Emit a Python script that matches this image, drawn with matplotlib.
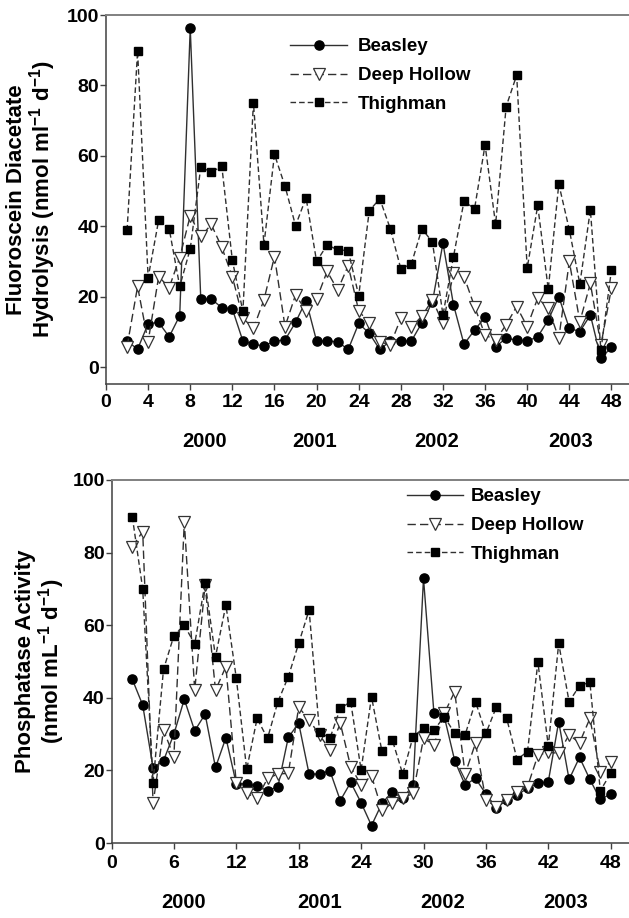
import matplotlib
matplotlib.use("Agg")
import matplotlib.pyplot as plt
from matplotlib.transforms import blended_transform_factory
from matplotlib.ticker import FixedLocator

plt.rcParams['font.family'] = ['Liberation Sans', 'DejaVu Sans']
plt.rcParams['font.weight'] = 'bold'
plt.rcParams['mathtext.fontset'] = 'custom'
plt.rcParams['mathtext.rm'] = 'Liberation Sans:bold'
plt.rcParams['mathtext.bf'] = 'Liberation Sans:bold'
plt.rcParams['mathtext.it'] = 'Liberation Sans:bold'
plt.rcParams['mathtext.default'] = 'rm'

# ---------------- data ----------------
sample = list(range(2, 49))
series_names = ['Beasley', 'Deep Hollow', 'Thighman']
years = ['2000', '2001', '2002', '2003']

fda_beasley = [7.4, 5.1, 12.3, 12.7, 8.6, 14.6, 96.3, 19.3, 19.3, 16.9, 16.5, 7.4,
               6.5, 6.0, 7.4, 7.7, 12.7, 18.9, 7.4, 7.4, 7.2, 5.0, 12.4, 9.6,
               5.0, 7.4, 7.4, 7.4, 12.6, 18.5, 35.2, 17.7, 6.5, 10.5, 14.2, 5.8,
               8.2, 7.7, 7.4, 8.6, 13.4, 20.0, 11.0, 10.1, 14.8, 2.5, 5.6]
fda_deephollow = [5.8, 22.9, 7.2, 25.7, 22.6, 31.1, 43.0, 37.1, 40.5, 34.0, 25.7, 13.9,
                  11.0, 19.1, 31.4, 11.5, 20.5, 16.0, 19.3, 27.2, 21.9, 28.8, 16.0, 12.4,
                  7.2, 6.3, 13.9, 11.3, 14.5, 19.1, 12.4, 26.7, 25.7, 17.2, 9.1, 7.7,
                  12.0, 17.2, 11.5, 19.6, 16.7, 8.2, 30.0, 12.9, 23.8, 6.3, 22.4]
fda_thighman = [38.8, 89.8, 25.4, 41.7, 39.3, 22.9, 33.6, 56.8, 55.4, 57.0, 30.3, 15.8,
                75.1, 34.8, 60.4, 51.4, 40.2, 48.1, 30.0, 34.7, 33.3, 33.1, 20.3, 44.4,
                47.8, 39.3, 27.9, 29.3, 39.3, 35.5, 14.8, 31.4, 47.1, 45.0, 63.1, 40.5,
                74.0, 82.9, 28.1, 45.9, 22.1, 52.0, 39.0, 23.6, 44.7, 4.8, 27.6]

pho_beasley = [45.1, 38.0, 20.7, 22.7, 30.0, 39.6, 30.9, 35.5, 20.8, 29.0, 16.3, 16.3,
               15.7, 14.4, 15.5, 29.1, 33.0, 19.0, 19.0, 19.9, 11.7, 16.7, 11.1, 4.8,
               10.9, 14.1, 12.3, 16.0, 72.9, 35.9, 34.8, 22.7, 16.0, 17.8, 13.5, 9.7,
               11.8, 13.2, 15.1, 16.4, 16.9, 33.4, 17.5, 23.6, 17.5, 12.0, 13.5]
pho_deephollow = [81.6, 85.8, 10.9, 31.1, 23.8, 88.5, 42.1, 71.1, 42.1, 48.6, 16.4, 13.7,
                  12.3, 17.8, 19.0, 19.2, 37.4, 33.9, 29.8, 25.6, 33.0, 21.0, 16.0, 18.5,
                  9.1, 10.9, 12.3, 13.7, 28.8, 27.0, 35.7, 41.7, 19.0, 27.5, 11.8, 10.0,
                  11.8, 14.1, 15.5, 24.2, 25.0, 24.7, 29.8, 27.6, 34.3, 19.6, 22.4]
pho_thighman = [89.9, 70.0, 16.6, 47.8, 57.1, 60.0, 54.8, 71.7, 51.3, 65.6, 45.4, 20.3,
                34.3, 28.8, 38.9, 45.8, 55.0, 64.2, 30.7, 28.8, 37.1, 38.9, 20.1, 40.3,
                25.3, 28.4, 19.0, 29.3, 31.6, 31.1, 34.8, 30.2, 29.8, 38.9, 30.2, 37.4,
                34.3, 23.0, 25.2, 49.8, 26.7, 55.0, 38.9, 43.3, 44.3, 14.4, 19.2]

top_xticks = list(range(0, 49, 4))
bottom_xticks = list(range(0, 49, 6))
yticks = [0, 20, 40, 60, 80, 100]

top_ylabel = 'Fluoroscein Diacetate\nHydrolysis (nmol ml$^{-1}$ d$^{-1}$)'
bottom_ylabel = 'Phosphatase Activity\n(nmol mL$^{-1}$ d$^{-1}$)'

# ---------------- styles ----------------
W, H = 629, 918
fig = plt.figure(figsize=(W / 100, H / 100), dpi=100)

line_col = '#303030'
styles = [
    dict(color=line_col, linestyle='-', lw=1.0, marker='o', ms=6.6,
         mfc='black', mec='black'),
    dict(color=line_col, linestyle=(0, (6, 3)), lw=1.0, marker='v', ms=8.6,
         mfc='white', mec='#333333', mew=0.9),
    dict(color=line_col, linestyle=(0, (4, 2.2)), lw=1.0, marker='s', ms=6.3,
         mfc='black', mec='black'),
]


def style_axes(ax, xticks, xpad):
    for s in ['left', 'bottom']:
        ax.spines[s].set_color('#404040')
        ax.spines[s].set_linewidth(1.1)
    for s in ['top', 'right']:
        ax.spines[s].set_color('#808080')
        ax.spines[s].set_linewidth(1.4)
    ax.set_xlim(0, 50)
    ax.xaxis.set_major_locator(FixedLocator(xticks))
    ax.yaxis.set_major_locator(FixedLocator(yticks))
    ax.tick_params(direction='out', length=4.3, width=1.0, color='#404040',
                   labelsize=14, pad=0.5)
    ax.tick_params(axis='x', pad=xpad)
    for lab in ax.get_xticklabels() + ax.get_yticklabels():
        lab.set_fontweight('bold')


def px_axes(left, right, top, bottom):
    return fig.add_axes([left / W, 1 - bottom / H, (right - left) / W, (bottom - top) / H])


legend_kw = dict(frameon=False, borderpad=0, borderaxespad=0, labelspacing=0.63,
                 prop=dict(weight='bold', size=13.5))

# ---------------- top panel ----------------
ax1 = px_axes(106, 632.5, 15, 384)
for name, vals, st in zip(series_names, [fda_beasley, fda_deephollow, fda_thighman], styles):
    ax1.plot(sample, vals, label=name, **st)
ax1.set_ylim(-4.8, 100)
style_axes(ax1, top_xticks, 3.0)
ax1.set_ylabel(top_ylabel, fontsize=16, fontweight='bold', linespacing=1.0)
ax1.yaxis.set_label_coords(-0.091, 0.5)
ax1.legend(loc='upper left', bbox_to_anchor=(290 / W, 1 - 38 / H),
           bbox_transform=fig.transFigure, handlelength=3.05, handletextpad=0.55,
           **legend_kw)

tr1 = blended_transform_factory(ax1.transData, fig.transFigure)
for yr, xp in zip(years, [9.4, 19.8, 31.4, 44.1]):
    ax1.text(xp, 1 - 442 / H, yr, transform=tr1, ha='center', va='center',
             fontsize=14.5, fontweight='bold')

# ---------------- bottom panel ----------------
ax2 = px_axes(111.5, 631.5, 480, 843)
for name, vals, st in zip(series_names, [pho_beasley, pho_deephollow, pho_thighman], styles):
    ax2.plot(sample, vals, label=name, **st)
ax2.set_ylim(0, 100)
style_axes(ax2, bottom_xticks, 4.5)
ax2.set_ylabel(bottom_ylabel, fontsize=16, fontweight='bold', linespacing=1.0)
ax2.yaxis.set_label_coords(-0.0856, 0.5)
ax2.legend(loc='upper left', bbox_to_anchor=(407 / W, 1 - 488 / H),
           bbox_transform=fig.transFigure, handlelength=3.0, handletextpad=0.4,
           **legend_kw)

tr2 = blended_transform_factory(ax2.transData, fig.transFigure)
for yr, xp in zip(years, [6.9, 20.0, 31.8, 43.7]):
    ax2.text(xp, 1 - 903 / H, yr, transform=tr2, ha='center', va='center',
             fontsize=14.5, fontweight='bold')

fig.savefig('out.png', dpi=100)
